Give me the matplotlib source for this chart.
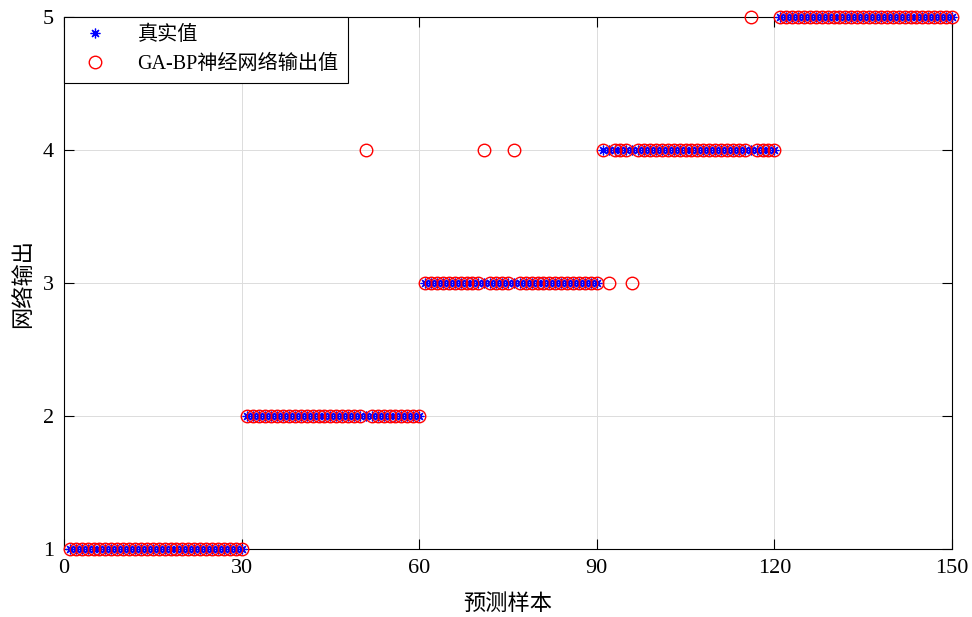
import numpy as np
import matplotlib

matplotlib.use("Agg")
import matplotlib.pyplot as plt

plt.rcParams["font.family"] = ["Liberation Serif", "Noto Sans CJK SC"]

# true class per block of 30 samples
true_levels = [1, 2, 3, 4, 5]
block_size = 30
# misclassified samples: (sample index, predicted value)
wrong_samples = [51, 71, 76, 92, 96, 116]
wrong_values = [4, 4, 4, 3, 3, 5]

samples = np.arange(1, len(true_levels) * block_size + 1)
y_true = np.repeat(true_levels, block_size).astype(float)
y_pred = y_true.copy()
for s, v in zip(wrong_samples, wrong_values):
    y_pred[s - 1] = v

fig = plt.figure(figsize=(9.72, 6.17), dpi=100)
ax = fig.add_axes([0.0658, 0.1102, 0.9136, 0.8622])

ax.plot(samples, y_true, linestyle="none", marker=(8, 2, 0), color="blue",
        markersize=7, markeredgewidth=0.9, label="真实值", clip_on=False, zorder=3)
ax.plot(samples, y_pred, "o", color="red", markerfacecolor="none",
        markersize=9, markeredgewidth=1.0, label="GA-BP神经网络输出值",
        clip_on=False, zorder=3)

ax.set_xlim(0, 150)
ax.set_ylim(1, 5)
ax.set_xticks([0, 30, 60, 90, 120, 150])
ax.set_yticks([1, 2, 3, 4, 5])
ax.tick_params(direction="in", top=True, right=True, labelsize=16, length=7, width=0.8, pad=7)
ax.grid(True, color="#dcdcdc", linewidth=0.7)
for sp in ax.spines.values():
    sp.set_linewidth(0.8)

ax.set_xlabel("预测样本", fontsize=16, family=["Noto Sans CJK SC"], labelpad=10)
ax.set_ylabel("网络输出", fontsize=16, family=["Noto Sans CJK SC"], labelpad=6)

leg = ax.legend(loc="upper left", fancybox=False, framealpha=1,
                edgecolor="black", borderaxespad=0, handletextpad=1.0,
                borderpad=0.45, labelspacing=0.45, handlelength=2.2,
                prop={"family": ["Liberation Serif", "Noto Sans CJK SC"], "size": 14.5})
leg.get_frame().set_linewidth(0.8)

fig.savefig("out.png", dpi=100)
